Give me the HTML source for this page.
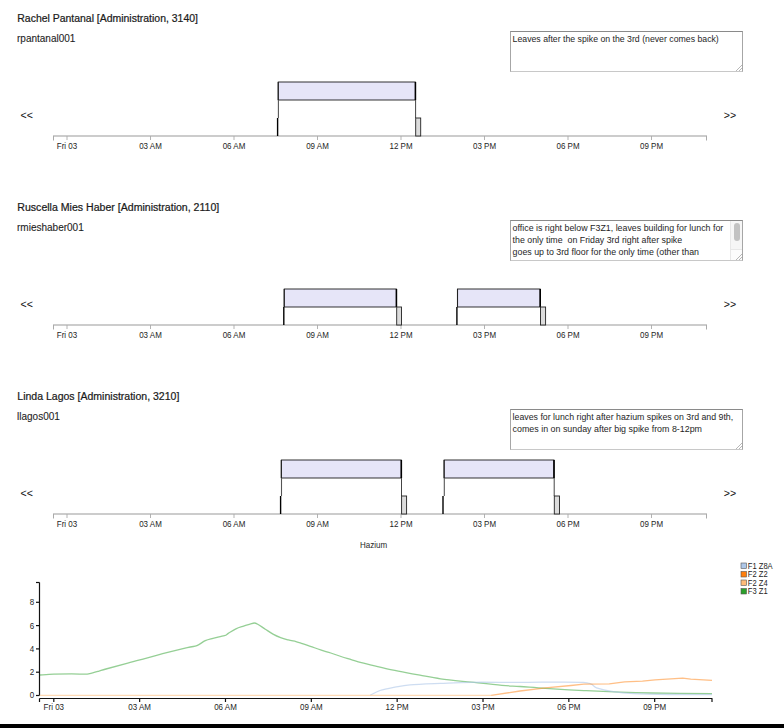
<!DOCTYPE html>
<html><head><meta charset="utf-8"><style>
html,body{margin:0;padding:0;background:#fff;width:784px;height:728px;overflow:hidden;position:relative;font-family:"Liberation Sans", sans-serif}
</style></head><body>
<svg width="784" height="728" style="position:absolute;left:0;top:0" font-family='"Liberation Sans", sans-serif'><text transform="translate(17.3 22.3) scale(1 1.1)" x="0" y="0" font-size="9.8" text-anchor="start" fill="#1a1a1a" font-weight="normal" stroke="#1a1a1a" stroke-width="0.2" textLength="180.6" lengthAdjust="spacingAndGlyphs">Rachel Pantanal [Administration, 3140]</text>
<text x="17" y="41.8" font-size="10" text-anchor="start" fill="#1e1e1e" font-weight="normal" stroke="#1e1e1e" stroke-width="0.1">rpantanal001</text>
<text x="20.5" y="118.5" font-size="10.6" text-anchor="start" fill="#111" font-weight="normal" >&lt;&lt;</text>
<text x="723.8" y="118.5" font-size="10.6" text-anchor="start" fill="#111" font-weight="normal" >&gt;&gt;</text>
<line x1="53" y1="136" x2="707" y2="136" stroke="#999" stroke-width="1.2" />
<line x1="53.5" y1="136" x2="53.5" y2="140.5" stroke="#aaa" stroke-width="1" />
<line x1="706.5" y1="136" x2="706.5" y2="140.5" stroke="#aaa" stroke-width="1" />
<line x1="67.0" y1="136" x2="67.0" y2="140" stroke="#aaa" stroke-width="0.9" />
<text transform="translate(67.0 148.6) scale(1 1.2)" x="0" y="0" font-size="8" text-anchor="middle" fill="#1e1e1e" font-weight="normal" >Fri 03</text>
<line x1="150.5" y1="136" x2="150.5" y2="140" stroke="#aaa" stroke-width="0.9" />
<text transform="translate(150.5 148.6) scale(1 1.2)" x="0" y="0" font-size="8" text-anchor="middle" fill="#1e1e1e" font-weight="normal" >03 AM</text>
<line x1="234.0" y1="136" x2="234.0" y2="140" stroke="#aaa" stroke-width="0.9" />
<text transform="translate(234.0 148.6) scale(1 1.2)" x="0" y="0" font-size="8" text-anchor="middle" fill="#1e1e1e" font-weight="normal" >06 AM</text>
<line x1="317.5" y1="136" x2="317.5" y2="140" stroke="#aaa" stroke-width="0.9" />
<text transform="translate(317.5 148.6) scale(1 1.2)" x="0" y="0" font-size="8" text-anchor="middle" fill="#1e1e1e" font-weight="normal" >09 AM</text>
<line x1="401.0" y1="136" x2="401.0" y2="140" stroke="#aaa" stroke-width="0.9" />
<text transform="translate(401.0 148.6) scale(1 1.2)" x="0" y="0" font-size="8" text-anchor="middle" fill="#1e1e1e" font-weight="normal" >12 PM</text>
<line x1="484.5" y1="136" x2="484.5" y2="140" stroke="#aaa" stroke-width="0.9" />
<text transform="translate(484.5 148.6) scale(1 1.2)" x="0" y="0" font-size="8" text-anchor="middle" fill="#1e1e1e" font-weight="normal" >03 PM</text>
<line x1="568.0" y1="136" x2="568.0" y2="140" stroke="#aaa" stroke-width="0.9" />
<text transform="translate(568.0 148.6) scale(1 1.2)" x="0" y="0" font-size="8" text-anchor="middle" fill="#1e1e1e" font-weight="normal" >06 PM</text>
<line x1="651.5" y1="136" x2="651.5" y2="140" stroke="#aaa" stroke-width="0.9" />
<text transform="translate(651.5 148.6) scale(1 1.2)" x="0" y="0" font-size="8" text-anchor="middle" fill="#1e1e1e" font-weight="normal" >09 PM</text>
<rect x="278.2" y="82" width="137.2" height="18" fill="#e6e5f8" stroke="#000" stroke-width="0.8" />
<line x1="278.2" y1="82" x2="278.2" y2="100" stroke="#222" stroke-width="1.1" />
<line x1="415.4" y1="82" x2="415.4" y2="100" stroke="#000" stroke-width="1.6" />
<line x1="278.4" y1="100" x2="278.4" y2="118" stroke="#555" stroke-width="1.1" />
<line x1="277.6" y1="118" x2="277.6" y2="136" stroke="#000" stroke-width="1.4" />
<line x1="415.59999999999997" y1="100" x2="415.59999999999997" y2="118" stroke="#444" stroke-width="1" />
<rect x="415.7" y="118" width="5.0000000000000115" height="18" fill="#dcdcdc" stroke="#222" stroke-width="0.9" />
<text transform="translate(17.3 211.3) scale(1 1.1)" x="0" y="0" font-size="9.8" text-anchor="start" fill="#1a1a1a" font-weight="normal" stroke="#1a1a1a" stroke-width="0.2" textLength="202.0" lengthAdjust="spacingAndGlyphs">Ruscella Mies Haber [Administration, 2110]</text>
<text x="17" y="230.8" font-size="10" text-anchor="start" fill="#1e1e1e" font-weight="normal" stroke="#1e1e1e" stroke-width="0.1">rmieshaber001</text>
<text x="20.5" y="307.5" font-size="10.6" text-anchor="start" fill="#111" font-weight="normal" >&lt;&lt;</text>
<text x="723.8" y="307.5" font-size="10.6" text-anchor="start" fill="#111" font-weight="normal" >&gt;&gt;</text>
<line x1="53" y1="325" x2="707" y2="325" stroke="#999" stroke-width="1.2" />
<line x1="53.5" y1="325" x2="53.5" y2="329.5" stroke="#aaa" stroke-width="1" />
<line x1="706.5" y1="325" x2="706.5" y2="329.5" stroke="#aaa" stroke-width="1" />
<line x1="67.0" y1="325" x2="67.0" y2="329" stroke="#aaa" stroke-width="0.9" />
<text transform="translate(67.0 337.6) scale(1 1.2)" x="0" y="0" font-size="8" text-anchor="middle" fill="#1e1e1e" font-weight="normal" >Fri 03</text>
<line x1="150.5" y1="325" x2="150.5" y2="329" stroke="#aaa" stroke-width="0.9" />
<text transform="translate(150.5 337.6) scale(1 1.2)" x="0" y="0" font-size="8" text-anchor="middle" fill="#1e1e1e" font-weight="normal" >03 AM</text>
<line x1="234.0" y1="325" x2="234.0" y2="329" stroke="#aaa" stroke-width="0.9" />
<text transform="translate(234.0 337.6) scale(1 1.2)" x="0" y="0" font-size="8" text-anchor="middle" fill="#1e1e1e" font-weight="normal" >06 AM</text>
<line x1="317.5" y1="325" x2="317.5" y2="329" stroke="#aaa" stroke-width="0.9" />
<text transform="translate(317.5 337.6) scale(1 1.2)" x="0" y="0" font-size="8" text-anchor="middle" fill="#1e1e1e" font-weight="normal" >09 AM</text>
<line x1="401.0" y1="325" x2="401.0" y2="329" stroke="#aaa" stroke-width="0.9" />
<text transform="translate(401.0 337.6) scale(1 1.2)" x="0" y="0" font-size="8" text-anchor="middle" fill="#1e1e1e" font-weight="normal" >12 PM</text>
<line x1="484.5" y1="325" x2="484.5" y2="329" stroke="#aaa" stroke-width="0.9" />
<text transform="translate(484.5 337.6) scale(1 1.2)" x="0" y="0" font-size="8" text-anchor="middle" fill="#1e1e1e" font-weight="normal" >03 PM</text>
<line x1="568.0" y1="325" x2="568.0" y2="329" stroke="#aaa" stroke-width="0.9" />
<text transform="translate(568.0 337.6) scale(1 1.2)" x="0" y="0" font-size="8" text-anchor="middle" fill="#1e1e1e" font-weight="normal" >06 PM</text>
<line x1="651.5" y1="325" x2="651.5" y2="329" stroke="#aaa" stroke-width="0.9" />
<text transform="translate(651.5 337.6) scale(1 1.2)" x="0" y="0" font-size="8" text-anchor="middle" fill="#1e1e1e" font-weight="normal" >09 PM</text>
<rect x="284.2" y="289" width="112.19999999999999" height="18" fill="#e6e5f8" stroke="#000" stroke-width="0.8" />
<line x1="284.2" y1="289" x2="284.2" y2="307" stroke="#222" stroke-width="1.1" />
<line x1="396.4" y1="289" x2="396.4" y2="307" stroke="#000" stroke-width="1.6" />
<line x1="283.8" y1="307" x2="283.8" y2="325" stroke="#000" stroke-width="1.4" />
<rect x="396.7" y="307" width="4.800000000000023" height="18" fill="#dcdcdc" stroke="#222" stroke-width="0.9" />
<rect x="457.5" y="289" width="82.70000000000005" height="18" fill="#e6e5f8" stroke="#000" stroke-width="0.8" />
<line x1="457.5" y1="289" x2="457.5" y2="307" stroke="#222" stroke-width="1.1" />
<line x1="540.2" y1="289" x2="540.2" y2="307" stroke="#000" stroke-width="1.6" />
<line x1="456.9" y1="307" x2="456.9" y2="325" stroke="#000" stroke-width="1.4" />
<rect x="540.5" y="307" width="5.099999999999977" height="18" fill="#dcdcdc" stroke="#222" stroke-width="0.9" />
<text transform="translate(17.3 400.3) scale(1 1.1)" x="0" y="0" font-size="9.8" text-anchor="start" fill="#1a1a1a" font-weight="normal" stroke="#1a1a1a" stroke-width="0.2" textLength="162.0" lengthAdjust="spacingAndGlyphs">Linda Lagos [Administration, 3210]</text>
<text x="17" y="419.8" font-size="10" text-anchor="start" fill="#1e1e1e" font-weight="normal" stroke="#1e1e1e" stroke-width="0.1">llagos001</text>
<text x="20.5" y="496.5" font-size="10.6" text-anchor="start" fill="#111" font-weight="normal" >&lt;&lt;</text>
<text x="723.8" y="496.5" font-size="10.6" text-anchor="start" fill="#111" font-weight="normal" >&gt;&gt;</text>
<line x1="53" y1="514" x2="707" y2="514" stroke="#999" stroke-width="1.2" />
<line x1="53.5" y1="514" x2="53.5" y2="518.5" stroke="#aaa" stroke-width="1" />
<line x1="706.5" y1="514" x2="706.5" y2="518.5" stroke="#aaa" stroke-width="1" />
<line x1="67.0" y1="514" x2="67.0" y2="518" stroke="#aaa" stroke-width="0.9" />
<text transform="translate(67.0 526.6) scale(1 1.2)" x="0" y="0" font-size="8" text-anchor="middle" fill="#1e1e1e" font-weight="normal" >Fri 03</text>
<line x1="150.5" y1="514" x2="150.5" y2="518" stroke="#aaa" stroke-width="0.9" />
<text transform="translate(150.5 526.6) scale(1 1.2)" x="0" y="0" font-size="8" text-anchor="middle" fill="#1e1e1e" font-weight="normal" >03 AM</text>
<line x1="234.0" y1="514" x2="234.0" y2="518" stroke="#aaa" stroke-width="0.9" />
<text transform="translate(234.0 526.6) scale(1 1.2)" x="0" y="0" font-size="8" text-anchor="middle" fill="#1e1e1e" font-weight="normal" >06 AM</text>
<line x1="317.5" y1="514" x2="317.5" y2="518" stroke="#aaa" stroke-width="0.9" />
<text transform="translate(317.5 526.6) scale(1 1.2)" x="0" y="0" font-size="8" text-anchor="middle" fill="#1e1e1e" font-weight="normal" >09 AM</text>
<line x1="401.0" y1="514" x2="401.0" y2="518" stroke="#aaa" stroke-width="0.9" />
<text transform="translate(401.0 526.6) scale(1 1.2)" x="0" y="0" font-size="8" text-anchor="middle" fill="#1e1e1e" font-weight="normal" >12 PM</text>
<line x1="484.5" y1="514" x2="484.5" y2="518" stroke="#aaa" stroke-width="0.9" />
<text transform="translate(484.5 526.6) scale(1 1.2)" x="0" y="0" font-size="8" text-anchor="middle" fill="#1e1e1e" font-weight="normal" >03 PM</text>
<line x1="568.0" y1="514" x2="568.0" y2="518" stroke="#aaa" stroke-width="0.9" />
<text transform="translate(568.0 526.6) scale(1 1.2)" x="0" y="0" font-size="8" text-anchor="middle" fill="#1e1e1e" font-weight="normal" >06 PM</text>
<line x1="651.5" y1="514" x2="651.5" y2="518" stroke="#aaa" stroke-width="0.9" />
<text transform="translate(651.5 526.6) scale(1 1.2)" x="0" y="0" font-size="8" text-anchor="middle" fill="#1e1e1e" font-weight="normal" >09 PM</text>
<rect x="281.3" y="460" width="120.0" height="18" fill="#e6e5f8" stroke="#000" stroke-width="0.8" />
<line x1="281.3" y1="460" x2="281.3" y2="478" stroke="#222" stroke-width="1.1" />
<line x1="401.3" y1="460" x2="401.3" y2="478" stroke="#000" stroke-width="1.6" />
<line x1="281.5" y1="478" x2="281.5" y2="496" stroke="#555" stroke-width="1.1" />
<line x1="280.6" y1="496" x2="280.6" y2="514" stroke="#000" stroke-width="1.4" />
<line x1="401.5" y1="478" x2="401.5" y2="496" stroke="#444" stroke-width="1" />
<rect x="401.6" y="496" width="5.0000000000000115" height="18" fill="#dcdcdc" stroke="#222" stroke-width="0.9" />
<rect x="444.1" y="460" width="109.89999999999998" height="18" fill="#e6e5f8" stroke="#000" stroke-width="0.8" />
<line x1="444.1" y1="460" x2="444.1" y2="478" stroke="#222" stroke-width="1.1" />
<line x1="554.0" y1="460" x2="554.0" y2="478" stroke="#000" stroke-width="1.6" />
<line x1="444.3" y1="478" x2="444.3" y2="496" stroke="#555" stroke-width="1.1" />
<line x1="443.0" y1="496" x2="443.0" y2="514" stroke="#000" stroke-width="1.4" />
<line x1="554.2" y1="478" x2="554.2" y2="496" stroke="#444" stroke-width="1" />
<rect x="554.3" y="496" width="5.2" height="18" fill="#dcdcdc" stroke="#222" stroke-width="0.9" />
<text transform="translate(373.5 547.9) scale(1 1.15)" x="0" y="0" font-size="8" text-anchor="middle" fill="#1e1e1e" font-weight="normal" >Hazium</text>
<line x1="39.5" y1="582.5" x2="39.5" y2="695.5" stroke="#111" stroke-width="1.2" />
<line x1="36" y1="582.5" x2="39.5" y2="582.5" stroke="#111" stroke-width="1.2" />
<line x1="36" y1="695.5" x2="39.5" y2="695.5" stroke="#111" stroke-width="1.2" />
<text transform="translate(34.3 698.4) scale(1 1.15)" x="0" y="0" font-size="8" text-anchor="end" fill="#1e1e1e" font-weight="normal" >0</text>
<line x1="36" y1="672.2" x2="39.5" y2="672.2" stroke="#111" stroke-width="1.2" />
<text transform="translate(34.3 675.1) scale(1 1.15)" x="0" y="0" font-size="8" text-anchor="end" fill="#1e1e1e" font-weight="normal" >2</text>
<line x1="36" y1="648.9" x2="39.5" y2="648.9" stroke="#111" stroke-width="1.2" />
<text transform="translate(34.3 651.8) scale(1 1.15)" x="0" y="0" font-size="8" text-anchor="end" fill="#1e1e1e" font-weight="normal" >4</text>
<line x1="36" y1="625.6" x2="39.5" y2="625.6" stroke="#111" stroke-width="1.2" />
<text transform="translate(34.3 628.5) scale(1 1.15)" x="0" y="0" font-size="8" text-anchor="end" fill="#1e1e1e" font-weight="normal" >6</text>
<line x1="36" y1="602.3" x2="39.5" y2="602.3" stroke="#111" stroke-width="1.2" />
<text transform="translate(34.3 605.1999999999999) scale(1 1.15)" x="0" y="0" font-size="8" text-anchor="end" fill="#1e1e1e" font-weight="normal" >8</text>
<line x1="39.5" y1="698.5" x2="712.3" y2="698.5" stroke="#111" stroke-width="1.2" />
<line x1="39.5" y1="698.5" x2="39.5" y2="702" stroke="#111" stroke-width="1.2" />
<line x1="712" y1="698.5" x2="712" y2="702" stroke="#111" stroke-width="1.2" />
<line x1="53.8" y1="698.5" x2="53.8" y2="702" stroke="#111" stroke-width="1.2" />
<text transform="translate(53.8 709.8) scale(1 1.15)" x="0" y="0" font-size="8" text-anchor="middle" fill="#1e1e1e" font-weight="normal" >Fri 03</text>
<line x1="139.64" y1="698.5" x2="139.64" y2="702" stroke="#111" stroke-width="1.2" />
<text transform="translate(139.64 709.8) scale(1 1.15)" x="0" y="0" font-size="8" text-anchor="middle" fill="#1e1e1e" font-weight="normal" >03 AM</text>
<line x1="225.48000000000002" y1="698.5" x2="225.48000000000002" y2="702" stroke="#111" stroke-width="1.2" />
<text transform="translate(225.48000000000002 709.8) scale(1 1.15)" x="0" y="0" font-size="8" text-anchor="middle" fill="#1e1e1e" font-weight="normal" >06 AM</text>
<line x1="311.32" y1="698.5" x2="311.32" y2="702" stroke="#111" stroke-width="1.2" />
<text transform="translate(311.32 709.8) scale(1 1.15)" x="0" y="0" font-size="8" text-anchor="middle" fill="#1e1e1e" font-weight="normal" >09 AM</text>
<line x1="397.16" y1="698.5" x2="397.16" y2="702" stroke="#111" stroke-width="1.2" />
<text transform="translate(397.16 709.8) scale(1 1.15)" x="0" y="0" font-size="8" text-anchor="middle" fill="#1e1e1e" font-weight="normal" >12 PM</text>
<line x1="483.00000000000006" y1="698.5" x2="483.00000000000006" y2="702" stroke="#111" stroke-width="1.2" />
<text transform="translate(483.00000000000006 709.8) scale(1 1.15)" x="0" y="0" font-size="8" text-anchor="middle" fill="#1e1e1e" font-weight="normal" >03 PM</text>
<line x1="568.8399999999999" y1="698.5" x2="568.8399999999999" y2="702" stroke="#111" stroke-width="1.2" />
<text transform="translate(568.8399999999999 709.8) scale(1 1.15)" x="0" y="0" font-size="8" text-anchor="middle" fill="#1e1e1e" font-weight="normal" >06 PM</text>
<line x1="654.68" y1="698.5" x2="654.68" y2="702" stroke="#111" stroke-width="1.2" />
<text transform="translate(654.68 709.8) scale(1 1.15)" x="0" y="0" font-size="8" text-anchor="middle" fill="#1e1e1e" font-weight="normal" >09 PM</text>
<path d="M39.80,675.00 C42.15,674.87 48.58,674.38 53.90,674.20 C59.22,674.02 66.50,673.90 71.70,673.90 C76.90,673.90 82.12,674.23 85.10,674.20 C88.08,674.17 87.37,674.18 89.60,673.70 C91.83,673.22 95.77,672.08 98.50,671.30 C101.23,670.52 101.43,670.27 106.00,669.00 C110.57,667.73 117.47,665.98 125.90,663.70 C134.33,661.42 146.38,657.97 156.60,655.30 C166.82,652.63 180.48,649.32 187.20,647.70 C193.92,646.08 193.88,646.78 196.90,645.60 C199.92,644.42 202.62,641.82 205.30,640.60 C207.98,639.38 209.82,639.12 213.00,638.30 C216.18,637.48 221.85,636.52 224.40,635.70 C226.95,634.88 226.38,634.55 228.30,633.40 C230.22,632.25 233.35,630.02 235.90,628.80 C238.45,627.58 241.25,626.87 243.60,626.10 C245.95,625.33 248.23,624.72 250.00,624.20 C251.77,623.68 252.92,623.00 254.20,623.00 C255.48,623.00 255.85,623.17 257.70,624.20 C259.55,625.23 262.75,627.55 265.30,629.20 C267.85,630.85 270.45,632.70 273.00,634.10 C275.55,635.50 278.05,636.63 280.60,637.60 C283.15,638.57 285.75,639.23 288.30,639.90 C290.85,640.57 293.92,641.12 295.90,641.60 C297.88,642.08 297.78,642.02 300.20,642.80 C302.62,643.58 307.00,645.12 310.40,646.30 C313.80,647.48 317.20,648.78 320.60,649.90 C324.00,651.02 327.40,651.90 330.80,653.00 C334.20,654.10 337.60,655.40 341.00,656.50 C344.40,657.60 347.80,658.57 351.20,659.60 C354.60,660.63 357.17,661.57 361.40,662.70 C365.63,663.83 371.52,665.20 376.60,666.40 C381.68,667.60 386.80,668.82 391.90,669.90 C397.00,670.98 402.52,672.02 407.20,672.90 C411.88,673.78 414.43,674.22 420.00,675.20 C425.57,676.18 432.05,677.63 440.60,678.80 C449.15,679.97 461.08,681.10 471.30,682.20 C481.52,683.30 493.78,684.68 501.90,685.40 C510.02,686.12 512.73,686.00 520.00,686.50 C527.27,687.00 534.87,687.72 545.50,688.40 C556.13,689.08 571.38,689.97 583.80,690.60 C596.22,691.23 608.73,691.80 620.00,692.20 C631.27,692.60 636.07,692.77 651.40,693.00 C666.73,693.23 701.90,693.50 712.00,693.60" fill="none" stroke="#2ca02c" stroke-width="1.3" stroke-opacity="0.5" stroke-linejoin="round"/>
<path d="M370.30,695.20 C371.92,694.42 375.88,691.83 380.00,690.50 C384.12,689.17 390.00,688.13 395.00,687.20 C400.00,686.27 402.40,685.53 410.00,684.90 C417.60,684.27 430.38,683.83 440.60,683.40 C450.82,682.97 458.07,682.47 471.30,682.30 C484.53,682.13 501.37,682.38 520.00,682.40 C538.63,682.42 570.35,681.50 583.10,682.40 C595.85,683.30 591.72,686.32 596.50,687.80 C601.28,689.28 605.62,690.33 611.80,691.30 C617.98,692.27 624.02,693.07 633.60,693.60 C643.18,694.13 656.23,694.33 669.30,694.50 C682.37,694.67 704.88,694.58 712.00,694.60" fill="none" stroke="#aec7e8" stroke-width="1.3" stroke-opacity="0.6" stroke-linejoin="round"/>
<path d="M39.8,695.4 L491.2,695.4" fill="none" stroke="#ffbb78" stroke-width="1.3" stroke-opacity="0.55" stroke-linejoin="round"/>
<path d="M491.2,695.4 L520.0,691.0 L545.5,687.8 L571.0,685.5 L583.8,684.2 L609.3,683.9 L624.6,681.8 L642.5,681.2 L655.0,679.8 L682.7,678.2 L690.7,679.1 L712.0,680.4" fill="none" stroke="#ff7f0e" stroke-width="1.3" stroke-opacity="0.5" stroke-linejoin="round"/>
<rect x="741" y="563.0" width="5.5" height="5.5" fill="#aec7e8" stroke="#555" stroke-width="0.6" />
<text transform="translate(747.8 568.6) scale(1 1.1)" x="0" y="0" font-size="7.6" text-anchor="start" fill="#1e1e1e" font-weight="normal" >F1 Z8A</text>
<rect x="741" y="571.5" width="5.5" height="5.5" fill="#ff7f0e" stroke="#555" stroke-width="0.6" />
<text transform="translate(747.8 577.1) scale(1 1.1)" x="0" y="0" font-size="7.6" text-anchor="start" fill="#1e1e1e" font-weight="normal" >F2 Z2</text>
<rect x="741" y="580.0" width="5.5" height="5.5" fill="#ffbb78" stroke="#555" stroke-width="0.6" />
<text transform="translate(747.8 585.6) scale(1 1.1)" x="0" y="0" font-size="7.6" text-anchor="start" fill="#1e1e1e" font-weight="normal" >F2 Z4</text>
<rect x="741" y="588.5" width="5.5" height="5.5" fill="#2ca02c" stroke="#555" stroke-width="0.6" />
<text transform="translate(747.8 594.1) scale(1 1.1)" x="0" y="0" font-size="7.6" text-anchor="start" fill="#1e1e1e" font-weight="normal" >F3 Z1</text></svg>
<div style="position:absolute;left:510px;top:31px;width:231px;height:39px;border:1px solid #a6a6a6;border-top-color:#8a8a8a;border-bottom-color:#c8c8c8;overflow:hidden;background:#fff"><svg style="position:absolute;left:0;top:0" width="231" height="39" font-family='"Liberation Sans", sans-serif'><text x="1.6" y="9.7" font-size="8.8" fill="#1e1e1e" textLength="206.2" lengthAdjust="spacingAndGlyphs">Leaves after the spike on the 3rd (never comes back)</text></svg><svg style="position:absolute;right:0px;bottom:0px" width="7" height="7"><line x1="1" y1="7" x2="7" y2="1" stroke="#999" stroke-width="0.7"/><line x1="4" y1="7" x2="7" y2="4" stroke="#999" stroke-width="0.7"/></svg></div><div style="position:absolute;left:510px;top:220px;width:231px;height:39px;border:1px solid #a6a6a6;border-top-color:#8a8a8a;border-bottom-color:#c8c8c8;overflow:hidden;background:#fff"><svg style="position:absolute;left:0;top:0" width="231" height="39" font-family='"Liberation Sans", sans-serif'><text x="1.6" y="9.7" font-size="8.8" fill="#1e1e1e" textLength="210.7" lengthAdjust="spacingAndGlyphs">office is right below F3Z1, leaves building for lunch for</text><text x="1.6" y="21.7" font-size="8.8" fill="#1e1e1e" textLength="169.6" lengthAdjust="spacingAndGlyphs">the only time &#160;on Friday 3rd right after spike</text><text x="1.6" y="33.7" font-size="8.8" fill="#1e1e1e" textLength="186.4" lengthAdjust="spacingAndGlyphs">goes up to 3rd floor for the only time (other than</text></svg><div style="position:absolute;right:0;top:0;width:11px;height:28px;background:#f6f6f6;border-left:1px solid #e8e8e8"></div><div style="position:absolute;right:2px;top:2px;width:6px;height:18px;background:#c2c2c2;border-radius:3px"></div><div style="position:absolute;right:0;top:28px;width:11px;height:11px;background:#fcfcfc;border-left:1px solid #e8e8e8;border-top:1px solid #e8e8e8"></div><svg style="position:absolute;right:0px;bottom:0px" width="7" height="7"><line x1="1" y1="7" x2="7" y2="1" stroke="#999" stroke-width="0.7"/><line x1="4" y1="7" x2="7" y2="4" stroke="#999" stroke-width="0.7"/></svg></div><div style="position:absolute;left:510px;top:409px;width:231px;height:39px;border:1px solid #a6a6a6;border-top-color:#8a8a8a;border-bottom-color:#c8c8c8;overflow:hidden;background:#fff"><svg style="position:absolute;left:0;top:0" width="231" height="39" font-family='"Liberation Sans", sans-serif'><text x="1.6" y="9.7" font-size="8.8" fill="#1e1e1e" textLength="220.6" lengthAdjust="spacingAndGlyphs">leaves for lunch right after hazium spikes on 3rd and 9th,</text><text x="1.6" y="21.7" font-size="8.8" fill="#1e1e1e" textLength="189.4" lengthAdjust="spacingAndGlyphs">comes in on sunday after big spike from 8-12pm</text></svg><svg style="position:absolute;right:0px;bottom:0px" width="7" height="7"><line x1="1" y1="7" x2="7" y2="1" stroke="#999" stroke-width="0.7"/><line x1="4" y1="7" x2="7" y2="4" stroke="#999" stroke-width="0.7"/></svg></div>
<div style="position:absolute;left:0;top:724px;width:784px;height:4px;background:#000"></div>
</body></html>
